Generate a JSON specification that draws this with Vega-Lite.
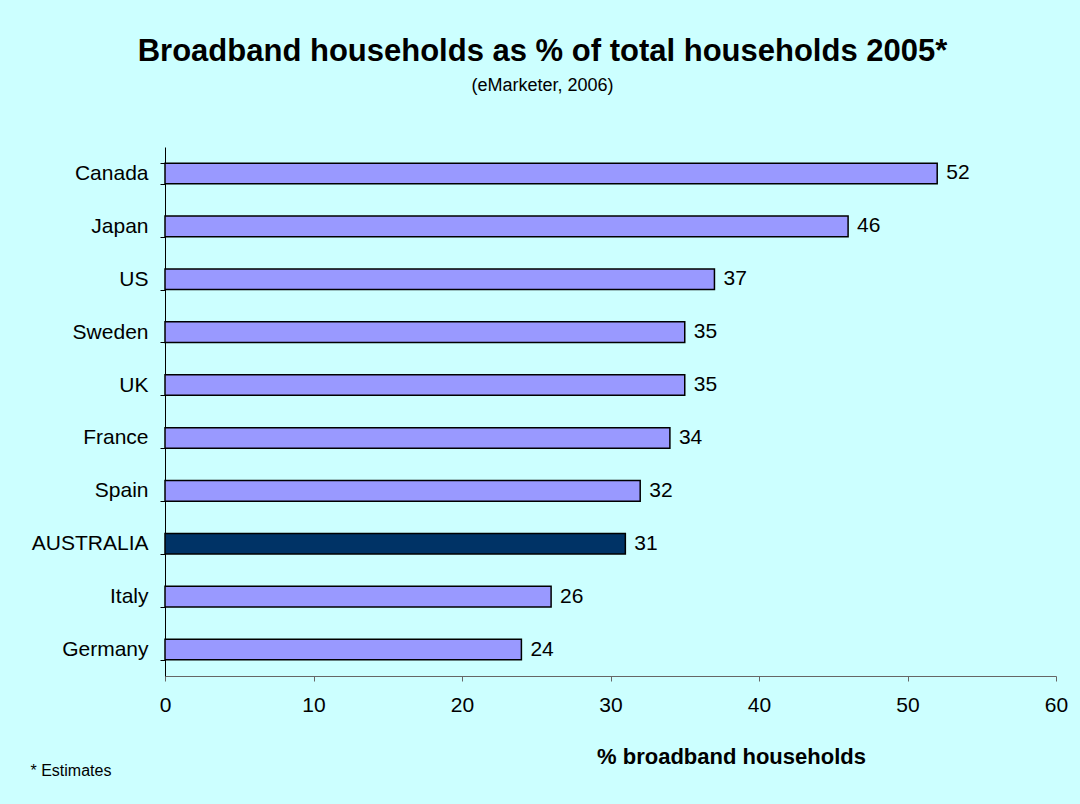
{
  "$schema": "https://vega.github.io/schema/vega-lite/v6.json",
  "width": 891,
  "height": 529,
  "autosize": {"type": "none"},
  "padding": {"left": 165, "top": 147, "right": 24, "bottom": 128},
  "background": "#CCFFFF",
  "title": {
    "text": "Broadband households as % of total households 2005*",
    "subtitle": "(eMarketer, 2006)",
    "anchor": "middle",
    "frame": "group",
    "dx": -68,
    "offset": 40,
    "font": "Liberation Sans",
    "fontSize": 31,
    "fontWeight": "bold",
    "color": "#000000",
    "subtitleFont": "Liberation Sans",
    "subtitleFontSize": 18,
    "subtitleColor": "#000000",
    "subtitlePadding": 9
  },
  "data": {
    "values": [
      {"country": "Canada", "pct": 52},
      {"country": "Japan", "pct": 46},
      {"country": "US", "pct": 37},
      {"country": "Sweden", "pct": 35},
      {"country": "UK", "pct": 35},
      {"country": "France", "pct": 34},
      {"country": "Spain", "pct": 32},
      {"country": "AUSTRALIA", "pct": 31},
      {"country": "Italy", "pct": 26},
      {"country": "Germany", "pct": 24}
    ]
  },
  "encoding": {
    "y": {
      "field": "country",
      "type": "nominal",
      "sort": null,
      "scale": {"paddingInner": 0.61, "paddingOuter": 0.305},
      "axis": {
        "title": "* Estimates",
        "titleAngle": 0,
        "titleX": -135,
        "titleY": 623,
        "titleAlign": "left",
        "titleBaseline": "middle",
        "titleFont": "Liberation Sans",
        "titleFontSize": 16,
        "titleFontWeight": "normal",
        "titleColor": "#000000",
        "labelFont": "Liberation Sans",
        "labelFontSize": 21,
        "labelColor": "#000000",
        "labelPadding": 12,
        "labelLimit": 200,
        "tickBand": "extent",
        "tickSize": 5,
        "tickColor": "#000000",
        "domainColor": "#000000",
        "grid": false
      }
    },
    "x": {
      "field": "pct",
      "type": "quantitative",
      "scale": {"domain": [0, 60], "nice": false},
      "axis": {
        "values": [0, 10, 20, 30, 40, 50, 60],
        "labelFlush": false,
        "title": "% broadband households",
        "titleX": 566,
        "titleY": 80,
        "titleAlign": "center",
        "titleBaseline": "middle",
        "titleFont": "Liberation Sans",
        "titleFontSize": 22,
        "titleFontWeight": "bold",
        "titleColor": "#000000",
        "labelFont": "Liberation Sans",
        "labelFontSize": 21,
        "labelColor": "#000000",
        "labelPadding": 13,
        "tickSize": 5,
        "tickColor": "#666666",
        "domainColor": "#666666",
        "grid": false
      }
    }
  },
  "layer": [
    {
      "mark": {"type": "bar", "stroke": "#000000", "strokeWidth": 1.5},
      "encoding": {
        "color": {
          "condition": {"test": "datum.country === 'AUSTRALIA'", "value": "#003366"},
          "value": "#9999FF"
        }
      }
    },
    {
      "mark": {"type": "text", "align": "left", "baseline": "middle", "dx": 9, "font": "Liberation Sans", "fontSize": 21, "color": "#000000"},
      "encoding": {
        "text": {"field": "pct", "type": "quantitative"}
      }
    }
  ],
  "config": {
    "view": {"stroke": null}
  }
}
